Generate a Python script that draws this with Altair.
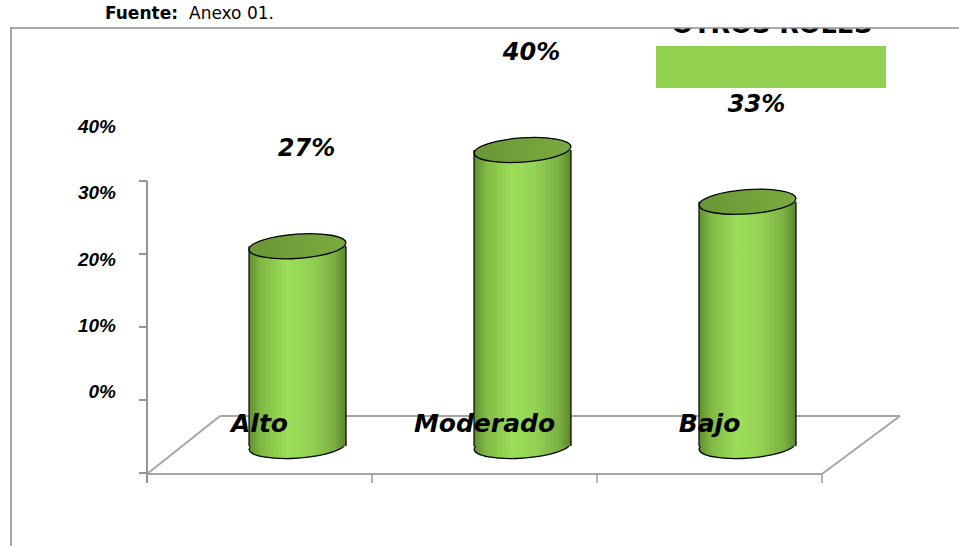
import altair as alt
import pandas as pd

# ---- data ----
categories = ["Alto", "Moderado", "Bajo"]
values = [27, 40, 33]
value_labels = ["27%", "40%", "33%"]
y_ticks = [0, 10, 20, 30, 40]
y_tick_labels = ["0%", "10%", "20%", "30%", "40%"]
series_name = "OTROS ROLES"
source_label = "Fuente:"
source_text = "Anexo 01."

df = pd.DataFrame({"cat": categories, "value": values, "label": value_labels})
ticks_df = pd.DataFrame({"t": y_ticks, "lab": y_tick_labels})
one = pd.DataFrame({"d": [0]})

T = 28  # top of the framed plot area (page pixels)


def py(y):
    return y - T


# ---- scales ----
x_scale = alt.Scale(type="band", domain=categories, range=[147, 822], paddingInner=0, paddingOuter=0)
y_main = alt.Scale(domain=[0, 40], range=[py(446), py(150)], zero=False, nice=False)
y_lab = alt.Scale(domain=[0, 40], range=[py(392), py(127)], zero=False, nice=False)
y_tck = alt.Scale(domain=[0, 40], range=[py(473), py(181)], zero=False, nice=False)

X = alt.X("cat:N", scale=x_scale, axis=None, sort=categories)
Y = alt.Y("value:Q", scale=y_main, axis=None)


def grad(stops):
    return {"gradient": "linear", "x1": 0, "x2": 1, "y1": 0, "y2": 0,
            "stops": [{"offset": o, "color": c} for o, c in stops]}


body_grad = grad([(0, "#5F8F2E"), (0.12, "#80B844"), (0.4, "#9CDF59"),
                  (0.65, "#92D052"), (0.88, "#7BAF42"), (1, "#5A862B")])
top_grad = grad([(0, "#6A9635"), (1, "#7AAB3F")])
ELL = "M -1 0 A 1 0.25 0 1 1 1 0 A 1 0.25 0 1 1 -1 0 Z"
CX = 38  # depth offset of cylinders
HW = 48.5


def seg(x1, y1, x2, y2, color="#A6A6A6", width=2):
    return alt.Chart(one).mark_rule(color=color, strokeWidth=width).encode(
        x=alt.value(x1), y=alt.value(py(y1)), x2=alt.value(x2), y2=alt.value(py(y2)))


floor = [
    seg(220, 416, 900, 416),
    seg(147, 474, 822, 474),
    seg(147, 474, 220, 416),
    seg(822, 474, 900, 416),
    seg(822, 474, 822, 483, "#9A9A9A", 1.5),
]
bottom_ticks = alt.Chart(df).mark_rule(color="#9A9A9A", strokeWidth=1.5).encode(
    x=alt.X("cat:N", scale=x_scale, axis=None, sort=categories, bandPosition=0),
    y=alt.value(py(474)), y2=alt.value(py(483)))

axis_line = seg(147, 181, 147, 483, "#959595", 2)
tick_rules = alt.Chart(ticks_df).mark_rule(color="#959595", strokeWidth=2).encode(
    y=alt.Y("t:Q", scale=y_tck, axis=None), x=alt.value(139), x2=alt.value(147))
tick_labels = alt.Chart(ticks_df).mark_text(
    font="Liberation Sans", fontSize=19, fontWeight="bold", fontStyle="italic",
    align="right", baseline="middle", color="black").encode(
    y=alt.Y("t:Q", scale=y_lab, axis=None), x=alt.value(116), text="lab:N")

bottom_ell = alt.Chart(df).mark_point(
    shape=ELL, filled=True, size=(2 * HW) ** 2, fill=body_grad, stroke="black",
    strokeWidth=1.2, opacity=1, angle=356, xOffset=CX).encode(
    x=X, y=alt.Y("zero:Q", scale=y_main, axis=None)).transform_calculate(zero="0")
body = alt.Chart(df).mark_bar(width=2 * HW, fill=body_grad, xOffset=CX).encode(x=X, y=Y)
edges = [
    alt.Chart(df).mark_rule(color="black", strokeWidth=1.2, xOffset=CX + s * HW).encode(
        x=X, y=Y, y2=alt.datum(0))
    for s in (-1, 1)
]
top_ell = alt.Chart(df).mark_point(
    shape=ELL, filled=True, size=(2 * HW) ** 2, fill=top_grad, stroke="black",
    strokeWidth=1.3, opacity=1, angle=356, xOffset=CX).encode(x=X, y=Y)

cat_labels = alt.Chart(df).mark_text(
    font="DejaVu Sans", fontSize=25, fontWeight="bold", fontStyle="italic",
    align="center", baseline="middle", color="black").encode(
    x=X, y=alt.value(py(424)), text="cat:N")
val_labels = alt.Chart(df).mark_text(
    font="DejaVu Sans", fontSize=24, fontWeight="bold", fontStyle="italic",
    align="center", baseline="middle", color="black", xOffset=CX + 9, dy=-97).encode(
    x=X, y=Y, text="label:N")

legend_rect = alt.Chart(one).mark_rect(color="#92D050").encode(
    x=alt.value(656), x2=alt.value(886), y=alt.value(py(46)), y2=alt.value(py(88)))
# series name: its upper part is cut off by the frame, as in the reference
legend_text = alt.Chart(pd.DataFrame({"s": [series_name]})).mark_text(
    font="DejaVu Sans", fontSize=25.5, fontWeight="bold", align="center",
    baseline="alphabetic", color="black", clip=True).encode(
    x=alt.value(772), y=alt.value(py(33)), text="s:N")
frame = [seg(10, 28, 959, 28, "#8C8C8C", 1.5), seg(11, 28, 11, 546, "#8C8C8C", 1.5)]

src1 = alt.Chart(pd.DataFrame({"s": [source_label]})).mark_text(
    font="DejaVu Sans", fontSize=17, fontWeight="bold", align="left",
    baseline="alphabetic", color="black").encode(x=alt.value(105), y=alt.value(py(19)), text="s:N")
src2 = alt.Chart(pd.DataFrame({"s": [source_text]})).mark_text(
    font="DejaVu Sans", fontSize=17, align="left",
    baseline="alphabetic", color="black").encode(x=alt.value(189), y=alt.value(py(19)), text="s:N")

chart = alt.layer(
    *floor, bottom_ticks, axis_line, tick_rules, tick_labels,
    bottom_ell, body, *edges, top_ell, cat_labels, val_labels,
    legend_text, legend_rect, *frame, src1, src2,
).resolve_scale(y="independent").properties(
    width=959, height=546 - T, autosize=alt.AutoSizeParams(type="none"),
    padding={"left": 0, "top": T, "right": 0, "bottom": 0},
    background="white",
).configure_view(stroke=None)

chart.save("out.html", embed_options={"renderer": "svg", "actions": False})
